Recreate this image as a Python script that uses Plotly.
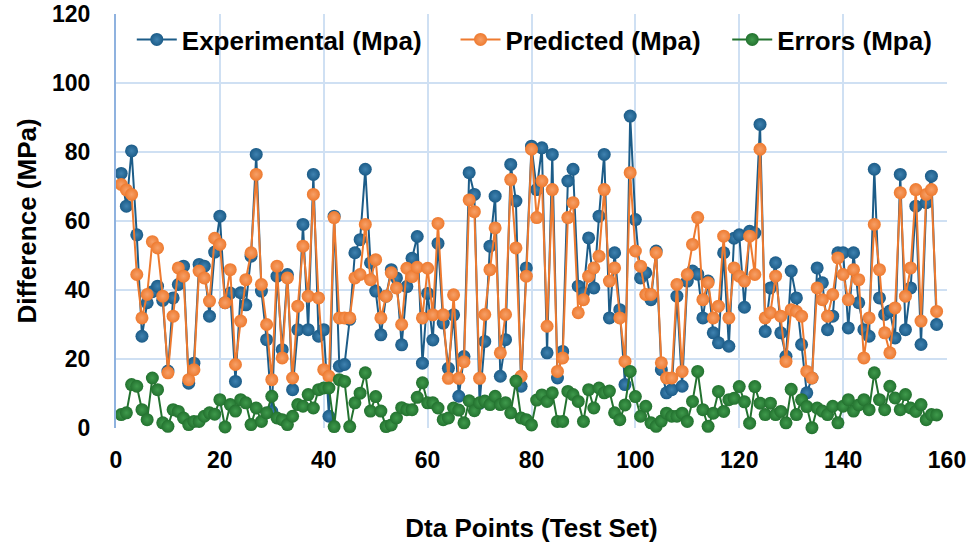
import plotly.graph_objects as go

# test-set point numbers
points = list(range(1, 159))

experimental = [
    73.8, 64.3, 80.3, 56.0, 26.6, 36.3, 39.5, 41.1, 37.0, 16.5,
    37.7, 41.6, 46.9, 13.0, 18.8, 47.4, 46.9, 32.4, 51.0, 61.4,
    36.3, 39.1, 13.5, 39.2, 35.7, 49.8, 79.3, 39.7, 25.6, 4.8,
    44.0, 22.7, 44.5, 11.1, 28.5, 59.0, 28.5, 73.5, 26.6, 28.5,
    3.4, 61.4, 17.9, 18.4, 31.5, 50.8, 54.6, 75.0, 47.9, 39.7,
    27.0, 38.2, 45.9, 43.5, 24.1, 41.0, 49.2, 55.5, 18.8, 39.0,
    25.5, 53.5, 30.4, 17.3, 32.8, 9.2, 20.7, 74.0, 67.7, 7.1,
    25.1, 52.7, 67.2, 15.0, 25.6, 76.4, 65.8, 12.1, 46.4, 81.7,
    69.1, 81.2, 21.8, 79.3, 14.5, 22.2, 71.6, 75.0, 41.1, 39.1,
    55.1, 40.6, 61.4, 79.3, 31.9, 50.8, 34.3, 12.6, 90.4, 60.4,
    43.5, 45.0, 37.2, 51.3, 16.9, 10.2, 11.1, 38.2, 12.1, 42.6,
    45.5, 44.6, 31.9, 42.6, 27.6, 24.7, 50.8, 23.7, 55.0, 56.0,
    35.0, 57.0, 56.5, 88.0, 28.0, 40.6, 47.9, 27.6, 20.8, 45.5,
    37.7, 24.2, 10.2, 14.5, 46.4, 42.1, 28.5, 32.4, 50.8, 50.8,
    29.0, 50.8, 36.3, 28.5, 26.6, 75.0, 37.7, 32.9, 33.9, 26.1,
    73.5, 28.5, 40.6, 64.3, 24.2, 65.3, 73.0, 30.0,
]

predicted = [
    70.6, 69.0, 67.7, 44.5, 31.9, 38.7, 54.0, 52.2, 38.2, 16.0,
    32.4, 46.4, 44.0, 14.0, 16.9, 45.5, 43.5, 36.8, 55.0, 53.2,
    36.3, 45.9, 18.4, 31.0, 43.0, 50.8, 73.5, 41.6, 30.0, 14.0,
    46.9, 20.3, 43.5, 14.5, 35.3, 52.7, 38.2, 67.7, 37.7, 16.9,
    15.0, 61.0, 31.9, 31.9, 31.9, 43.5, 44.5, 59.0, 43.0, 48.8,
    31.9, 38.2, 45.0, 40.6, 30.0, 46.3, 43.9, 46.6, 31.9, 46.3,
    32.8, 59.3, 32.8, 14.4, 38.6, 14.4, 19.2, 66.1, 62.7, 14.4,
    32.9, 45.9, 58.0, 21.8, 32.9, 72.0, 52.2, 15.0, 44.0, 80.8,
    61.0, 71.6, 29.5, 69.1, 16.4, 20.3, 61.0, 65.3, 33.4, 37.2,
    44.0, 46.4, 49.8, 69.1, 42.6, 46.4, 31.9, 19.3, 74.0, 51.3,
    46.9, 38.7, 38.7, 50.8, 18.9, 14.5, 14.5, 41.6, 16.4, 44.5,
    53.2, 61.0, 37.2, 42.1, 31.9, 35.3, 55.6, 31.9, 46.4, 44.0,
    42.6, 55.6, 44.5, 80.8, 31.9, 33.4, 44.0, 32.4, 19.3, 34.3,
    33.8, 32.4, 16.4, 14.5, 40.6, 37.2, 32.4, 38.7, 49.3, 44.5,
    37.2, 45.9, 43.0, 20.3, 31.9, 59.0, 45.9, 27.6, 21.8, 34.8,
    68.2, 38.2, 46.4, 69.1, 31.0, 67.7, 69.1, 33.8,
]

errors = [
    3.9, 4.4, 12.6, 12.1, 5.3, 2.4, 14.5, 11.1, 1.5, 0.5,
    5.3, 4.8, 2.9, 1.0, 1.9, 1.9, 3.4, 4.4, 4.0, 8.2,
    0.3, 6.8, 4.9, 8.2, 7.3, 1.0, 5.8, 1.9, 4.4, 9.2,
    2.9, 2.4, 1.0, 3.4, 6.8, 6.3, 9.7, 5.8, 11.1, 11.6,
    11.6, 0.4, 14.0, 13.5, 0.4, 7.3, 10.1, 16.0, 4.9, 9.1,
    4.9, 0.4, 0.9, 2.9, 5.9, 5.3, 5.3, 8.9, 13.1, 7.3,
    7.3, 5.8, 2.4, 2.9, 5.8, 5.2, 1.5, 7.9, 5.0, 7.3,
    7.8, 6.8, 9.2, 6.8, 7.3, 4.4, 13.6, 2.9, 2.4, 0.9,
    8.1, 9.6, 7.7, 10.2, 1.9, 1.9, 10.6, 9.7, 7.7, 1.9,
    11.1, 5.8, 11.6, 10.2, 10.7, 4.4, 2.4, 6.7, 16.4, 9.1,
    3.4, 6.3, 1.5, 0.5, 2.0, 4.3, 3.4, 3.4, 4.3, 1.9,
    7.7, 16.4, 5.3, 0.5, 4.3, 10.6, 4.8, 8.2, 8.6, 12.0,
    7.6, 1.4, 12.0, 7.2, 3.9, 7.2, 3.9, 4.8, 1.5, 11.2,
    3.9, 8.2, 6.2, 0.1, 5.8, 4.9, 3.9, 6.3, 1.5, 6.3,
    8.2, 4.9, 6.7, 8.2, 5.3, 16.0, 8.2, 5.3, 12.1, 8.7,
    5.3, 9.7, 5.8, 4.8, 6.8, 2.4, 3.9, 3.8,
]

x_ticks = [0, 20, 40, 60, 80, 100, 120, 140, 160]
y_ticks = [0, 20, 40, 60, 80, 100, 120]

FONT = "Liberation Sans, Arial, sans-serif"
GRID = "#cfe0f3"
NB = "\u00a0"  # padding so the legend entries spread like the original

series = [
    ("Experimental (Mpa)" + NB * 4, experimental, "#1c5c88", "#3f82b0"),
    ("Predicted (Mpa)" + NB * 3, predicted, "#ee7a2f", "#f6a068"),
    ("Errors (Mpa)", errors, "#23722f", "#3f9a4c"),
]

fig = go.Figure()
for name, vals, col, hi in series:
    fig.add_trace(go.Scatter(
        x=points, y=vals, name=name, mode="lines+markers",
        line=dict(color=col, width=2),
        marker=dict(size=13, color=col, line=dict(width=0),
                    gradient=dict(type="radial", color=hi)),
        cliponaxis=False,
    ))

fig.update_layout(
    width=968, height=553,
    margin=dict(l=116, r=21, t=14, b=125, autoexpand=False),
    paper_bgcolor="white", plot_bgcolor="white",
    font=dict(family=FONT, color="black", size=23, weight="bold"),
    showlegend=True,
    legend=dict(orientation="h", x=0.019, y=0.995, xanchor="left", yanchor="top",
                bgcolor="rgba(0,0,0,0)", font=dict(size=26, weight="bold"),
                itemwidth=40, tracegroupgap=0),
)

fig.update_xaxes(
    range=[0, 160], tickvals=x_ticks, showgrid=True, gridcolor=GRID, gridwidth=1.5,
    zeroline=False, showline=False, ticks="", ticklabelstandoff=16, automargin=False,
    tickfont=dict(size=23, weight="bold"),
    title=dict(text="Dta Points (Test Set)", font=dict(size=26, weight="bold"), standoff=46),
)
fig.update_yaxes(
    range=[0, 120], tickvals=y_ticks, showgrid=True, gridcolor=GRID, gridwidth=1.5,
    zeroline=False, showline=True, linecolor="#8fb2df", linewidth=2, ticks="",
    ticklabelstandoff=19, automargin=False, ticklabeloverflow="allow",
    tickfont=dict(size=23, weight="bold"),
    title=dict(text="Difference (MPa)", font=dict(size=26, weight="bold"), standoff=8),
)

# drop the default 8px body margin so the figure fills the window exactly
fig.write_html("out.html", config={"displayModeBar": False},
               post_script="document.body.style.margin='0';")
